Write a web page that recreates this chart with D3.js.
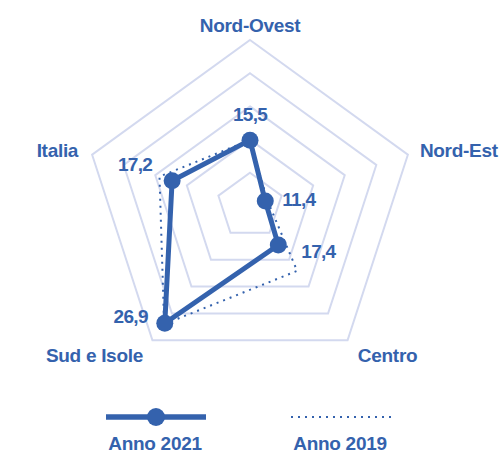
<!DOCTYPE html>
<html>
<head>
<meta charset="utf-8">
<script src="https://cdn.jsdelivr.net/npm/d3@7"></script>
<style>
  html, body { margin: 0; padding: 0; background: #ffffff; }
  svg { display: block; }
  text { font-family: "Liberation Sans", Arial, Helvetica, sans-serif; font-weight: bold; }
</style>
</head>
<body>
<svg id="chart" width="502" height="453"></svg>
<script>
// ---- data ----
const categories = ["Nord-Ovest", "Nord-Est", "Centro", "Sud e Isole", "Italia"];
// values printed on the chart for 2021
const labels2021 = ["15,5", "11,4", "17,4", "26,9", "17,2"];
// radial positions of the plotted points (same radial scale as the grid)
const plot2021 = [11.9, 2.9, 8.7, 26.2, 14.8];
const plot2019 = [11.9, 3.3, 14.5, 26.4, 17.2];
const ringTicks = [6, 12, 18, 24, 30];
const seriesNames = ["Anno 2021", "Anno 2019"];

// ---- layout / style ----
const W = 502, H = 453;
const cx = 250, cy = 206, R = 166;
const blue = "#3462ad";
const gridColor = "#d3d9ef";

const svg = d3.select("#chart");
const g = svg.append("g").attr("transform", `translate(${cx},${cy})`);

const angle = d3.scalePoint().domain(d3.range(categories.length)).range([0, 2 * Math.PI * (categories.length - 1) / categories.length]);
const r = d3.scaleLinear().domain([0, 30]).range([0, R]);

const pos = (i, v) => {
  const a = angle(i);
  return [r(v) * Math.sin(a), -r(v) * Math.cos(a)];
};

// grid pentagons
const ringLine = d3.lineRadial().curve(d3.curveLinearClosed);
g.selectAll("path.ring")
  .data(ringTicks)
  .join("path")
  .attr("class", "ring")
  .attr("d", t => ringLine(categories.map((c, i) => [angle(i), r(t)])))
  .attr("fill", "none")
  .attr("stroke", gridColor)
  .attr("stroke-width", 2);

// series lines
const seriesLine = d3.lineRadial().curve(d3.curveLinearClosed);
g.append("path")
  .attr("d", seriesLine(plot2019.map((v, i) => [angle(i), r(v)])))
  .attr("fill", "none")
  .attr("stroke", blue)
  .attr("stroke-width", 2)
  .attr("stroke-dasharray", "2 5");

g.append("path")
  .attr("d", seriesLine(plot2021.map((v, i) => [angle(i), r(v)])))
  .attr("fill", "none")
  .attr("stroke", blue)
  .attr("stroke-width", 5)
  .attr("stroke-linejoin", "round");

g.selectAll("circle.pt")
  .data(plot2021)
  .join("circle")
  .attr("class", "pt")
  .attr("cx", (v, i) => pos(i, v)[0])
  .attr("cy", (v, i) => pos(i, v)[1])
  .attr("r", 8.5)
  .attr("fill", blue);

// value labels (offsets relative to each point)
const valueOffsets = [
  { dx: 0, dy: -19, anchor: "middle" },
  { dx: 17, dy: 5, anchor: "start" },
  { dx: 23, dy: 13, anchor: "start" },
  { dx: -17, dy: 0, anchor: "end" },
  { dx: -20, dy: -10, anchor: "end" }
];
g.selectAll("text.val")
  .data(plot2021)
  .join("text")
  .attr("class", "val")
  .attr("x", (v, i) => pos(i, v)[0] + valueOffsets[i].dx)
  .attr("y", (v, i) => pos(i, v)[1] + valueOffsets[i].dy)
  .attr("text-anchor", (v, i) => valueOffsets[i].anchor)
  .attr("fill", blue)
  .attr("font-size", 19)
  .attr("letter-spacing", -0.7)
  .text((v, i) => labels2021[i]);

// category labels (offsets relative to each outer vertex)
const catOffsets = [
  { dx: 0, dy: -8, anchor: "middle" },
  { dx: 12, dy: 2, anchor: "start" },
  { dx: 40, dy: 22, anchor: "middle" },
  { dx: -58, dy: 22, anchor: "middle" },
  { dx: -14, dy: 2, anchor: "end" }
];
g.selectAll("text.cat")
  .data(categories)
  .join("text")
  .attr("class", "cat")
  .attr("x", (c, i) => pos(i, 30)[0] + catOffsets[i].dx)
  .attr("y", (c, i) => pos(i, 30)[1] + catOffsets[i].dy)
  .attr("text-anchor", (c, i) => catOffsets[i].anchor)
  .attr("fill", blue)
  .attr("font-size", 19)
  .attr("letter-spacing", -0.3)
  .text(c => c);

// legend
const legend = svg.append("g");
const ly = 417;
legend.append("line")
  .attr("x1", 106).attr("x2", 206).attr("y1", ly).attr("y2", ly)
  .attr("stroke", blue).attr("stroke-width", 5.5);
legend.append("circle")
  .attr("cx", 156).attr("cy", ly).attr("r", 9).attr("fill", blue);
legend.append("line")
  .attr("x1", 291).attr("x2", 396).attr("y1", ly).attr("y2", ly)
  .attr("stroke", blue).attr("stroke-width", 2).attr("stroke-dasharray", "2 5");
legend.selectAll("text.leg")
  .data(seriesNames)
  .join("text")
  .attr("class", "leg")
  .attr("x", (d, i) => i === 0 ? 155 : 340)
  .attr("y", 450)
  .attr("text-anchor", "middle")
  .attr("fill", blue)
  .attr("font-size", 19)
  .attr("letter-spacing", -0.3)
  .text(d => d);
</script>
</body>
</html>
